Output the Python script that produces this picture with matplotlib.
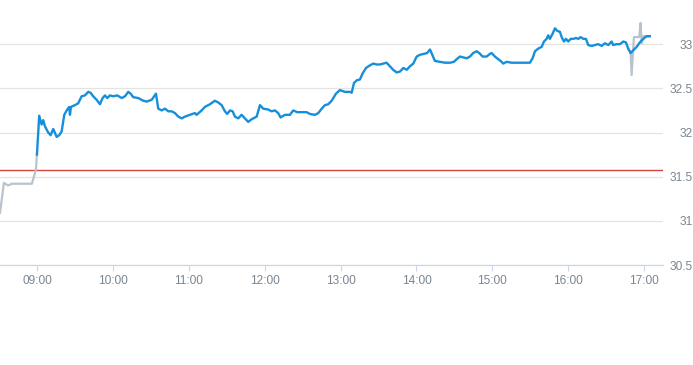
import matplotlib
matplotlib.use("Agg")
from matplotlib import pyplot as plt

# minutes after 09:00 and price
pre_t = [-29.2, -26.1, -22.9, -19.8, -4.0, -0.8, 0.0]
pre_v = [31.09, 31.43, 31.40, 31.42, 31.42, 31.58, 31.75]

day_t = [0.0, 1.8, 3.7, 5.0, 6.3, 8.9, 10.8, 12.9, 15.6, 17.6, 19.5, 21.6, 23.5, 25.5, 26.1, 26.9,
         30.0, 32.6, 35.3, 37.9, 40.6, 42.4, 44.5, 47.2, 49.8, 51.9, 53.8, 55.6, 57.7, 60.3, 63.5,
         67.0, 69.6, 72.2, 74.1, 76.1, 80.1, 84.0, 86.7, 90.7, 94.1, 95.9, 98.6, 101.2, 103.8,
         106.5, 109.1, 111.7, 114.4, 117.0, 120.9, 124.9, 126.2, 130.2, 132.8, 136.8, 140.7,
         143.3, 146.0, 148.6, 150.4, 152.6, 154.7, 156.5, 159.1, 161.8, 164.4, 167.0, 169.7,
         173.7, 176.3, 178.9, 182.8, 185.5, 188.1, 190.7, 192.6, 196.0, 200.0, 202.6, 205.8,
         209.2, 213.2, 215.8, 219.8, 222.4, 225.1, 227.7, 230.3, 233.0, 236.4, 239.5, 243.5,
         247.4, 248.8, 250.6, 252.7, 255.3, 257.5, 260.1, 263.2, 265.8, 268.5, 271.1, 273.8,
         276.4, 279.0, 281.6, 284.3, 287.0, 289.6, 292.3, 294.9, 297.5, 300.2, 302.8, 305.9,
         308.5, 310.7, 312.2, 314.6, 318.6, 322.5, 326.5, 329.6, 331.8, 334.4, 337.0, 339.7,
         342.3, 344.9, 347.6, 349.6, 352.3, 355.5, 358.1, 359.4, 362.0, 364.7, 367.3, 368.6,
         371.3, 375.3, 379.2, 384.4, 389.7, 391.8, 393.7, 396.3, 399.0, 400.8, 402.9, 404.2,
         405.5, 407.7, 409.5, 411.3, 413.4, 414.8, 416.6, 418.2, 420.0, 421.9, 424.0, 426.1,
         427.9, 429.8, 431.9, 434.0, 435.8, 438.5, 441.1, 443.7, 446.4, 449.0, 451.6, 454.3,
         455.5, 458.2, 460.9, 463.5, 465.6, 467.4, 469.3, 471.4, 474.1, 476.6, 479.3, 481.9, 484.5]
day_v = [31.75, 32.19, 32.09, 32.14, 32.07, 32.00, 31.97, 32.04, 31.95, 31.97, 32.01, 32.20, 32.25,
         32.29, 32.20, 32.29, 32.31, 32.33, 32.41, 32.42, 32.46, 32.45, 32.41, 32.37, 32.32, 32.39,
         32.42, 32.39, 32.42, 32.41, 32.42, 32.39, 32.41, 32.46, 32.44, 32.40, 32.39, 32.36, 32.35,
         32.37, 32.44, 32.27, 32.25, 32.27, 32.24, 32.24, 32.22, 32.18, 32.16, 32.18, 32.20, 32.22,
         32.20, 32.25, 32.29, 32.32, 32.36, 32.34, 32.31, 32.24, 32.21, 32.25, 32.24, 32.18, 32.16,
         32.20, 32.16, 32.12, 32.15, 32.18, 32.31, 32.27, 32.26, 32.24, 32.25, 32.22, 32.17, 32.20,
         32.20, 32.25, 32.23, 32.23, 32.23, 32.21, 32.20, 32.22, 32.27, 32.31, 32.32, 32.36, 32.44,
         32.48, 32.46, 32.46, 32.45, 32.56, 32.59, 32.60, 32.67, 32.73, 32.76, 32.78, 32.77, 32.77,
         32.78, 32.79, 32.75, 32.71, 32.68, 32.69, 32.73, 32.71, 32.75, 32.78, 32.86, 32.88, 32.89,
         32.90, 32.94, 32.89, 32.81, 32.80, 32.79, 32.79, 32.80, 32.83, 32.86, 32.85, 32.84, 32.86,
         32.90, 32.92, 32.90, 32.86, 32.86, 32.89, 32.90, 32.86, 32.83, 32.80, 32.78, 32.80, 32.79,
         32.79, 32.79, 32.79, 32.84, 32.92, 32.95, 32.97, 33.03, 33.06, 33.10, 33.06, 33.12, 33.18,
         33.15, 33.14, 33.08, 33.03, 33.06, 33.03, 33.06, 33.06, 33.07, 33.06, 33.08, 33.06, 33.06,
         32.99, 32.98, 32.99, 33.00, 32.98, 33.01, 32.99, 33.03, 32.99, 33.00, 33.00, 33.03, 33.02,
         32.95, 32.90, 32.93, 32.97, 33.02, 33.06, 33.09, 33.09]

post_t = [467.4, 469.3, 470.1, 471.9, 476.1, 477.2, 478.0, 479.3, 484.5]
post_v = [32.95, 32.90, 32.65, 33.08, 33.08, 33.24, 33.01, 33.09, 33.09]

prev_close = 31.57
y_ticks = [30.5, 31, 31.5, 32, 32.5, 33]
y_labels = ["30.5", "31", "31.5", "32", "32.5", "33"]
x_ticks = [0, 60, 120, 180, 240, 300, 360, 420, 480]
x_labels = ["09:00", "10:00", "11:00", "12:00", "13:00", "14:00", "15:00", "16:00", "17:00"]

plt.rcParams['font.family'] = ['Liberation Sans', 'DejaVu Sans']

fig = plt.figure(figsize=(6.93, 3.65), dpi=100)
ax = fig.add_axes([0, 1 - 265 / 365, 663 / 693, 265 / 365])

ax.plot(pre_t, pre_v, color='#b9c3cd', lw=1.6, zorder=3)
ax.plot(post_t, post_v, color='#b9c3cd', lw=1.6, zorder=3)
ax.plot(day_t, day_v, color='#168fdb', lw=1.7, zorder=4)
ax.axhline(prev_close, color='#d9423e', lw=1.0, zorder=2)

ax.set_xlim(-29.2, 494.9)
ax.set_ylim(30.5, 33.5)

txt_col = '#7b8590'
ax.set_yticks(y_ticks)
ax.set_yticklabels(y_labels)
ax.yaxis.tick_right()
ax.tick_params(axis='y', length=0, pad=21.6, labelsize=8.6, labelcolor=txt_col)
for lab in ax.get_yticklabels():
    lab.set_horizontalalignment('right')
ax.grid(axis='y', color='#e4e4e4', lw=0.9)

ax.set_xticks(x_ticks)
ax.set_xticklabels(x_labels)
ax.tick_params(axis='x', length=4, width=0.8, color='#ccd6eb', pad=3.5, labelsize=8.6,
               labelcolor=txt_col)

for s in ['top', 'left', 'right']:
    ax.spines[s].set_visible(False)
ax.spines['bottom'].set_color('#ccd6eb')
ax.spines['bottom'].set_linewidth(0.9)
ax.set_axisbelow(True)

fig.savefig('out.png', dpi=100)
